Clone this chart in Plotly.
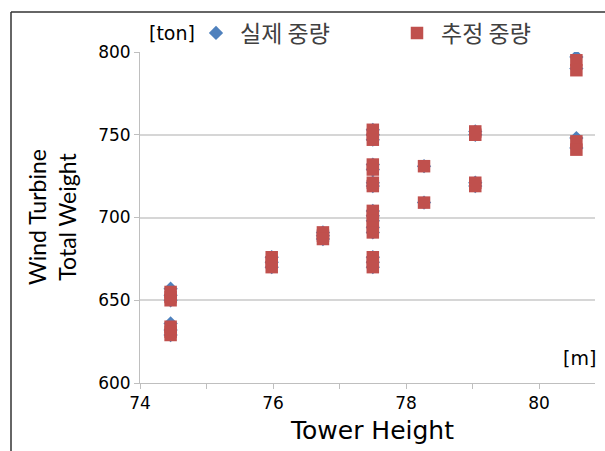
import plotly.graph_objects as go

# ---- data ----
series_names = ["실제 중량", "추정 중량"]

tower_height = (
    [74.46] * 6 + [75.98] * 3 + [76.75] * 3 + [77.50] * 15
    + [78.27] * 2 + [79.04] * 4 + [80.56] * 4
)

real_weight = [
    657, 653, 650, 636, 632, 629,
    676, 673, 670,
    691, 689, 687,
    753, 750, 747, 732, 729, 721, 719, 704, 701, 698, 694, 691, 676, 673, 670,
    731, 709,
    752, 750, 721, 719,
    797, 790, 748, 742,
]

estimated_weight = [
    655, 652, 650, 634, 631, 629,
    676, 673, 670,
    691, 689, 687,
    753, 750, 747, 732, 729, 721, 719, 704, 701, 698, 694, 691, 676, 673, 670,
    731, 709,
    752, 750, 721, 719,
    795, 789, 746, 741,
]

x_tick_vals = [74, 76, 78, 80]
x_tick_text = ["74", "76", "78", "80"]
y_tick_vals = [600, 650, 700, 750, 800]
y_tick_text = ["600", "650", "700", "750", "800"]

x_title = "Tower Height"
y_title = "Wind Turbine<br>Total Weight"
y_unit = "[ton]"
x_unit = "[m]"

BLUE = "#4F81BD"
RED = "#C0504D"

fig = go.Figure()
fig.add_trace(go.Scatter(
    x=tower_height, y=real_weight, mode="markers", name=series_names[0],
    marker=dict(symbol="diamond", size=11, color=BLUE, line=dict(width=0)),
))
fig.add_trace(go.Scatter(
    x=tower_height, y=estimated_weight, mode="markers", name=series_names[1],
    marker=dict(symbol="square", size=12.5, color=RED, line=dict(width=0)),
))

L, R, T, B = 140, 10, 52, 68
W, H = 605, 451
pw, ph = W - L - R, H - T - B

def px_x(p):
    return (p - L) / pw

def px_y(p):
    return (H - B - p) / ph

fig.update_layout(
    width=W, height=H,
    margin=dict(l=L, r=R, t=T, b=B, pad=0, autoexpand=False),
    paper_bgcolor="white", plot_bgcolor="white",
    showlegend=True,
    legend=dict(
        orientation="h", x=px_x(192), y=px_y(33), xanchor="left", yanchor="middle",
        entrywidth=148, entrywidthmode="pixels", itemwidth=38,
        font=dict(family="Noto Sans CJK KR", size=23, color="#404040"),
        bgcolor="rgba(0,0,0,0)", itemclick=False,
    ),
    xaxis=dict(
        range=[74, 80.84], tickvals=x_tick_vals, ticktext=x_tick_text,
        showgrid=False, zeroline=False, showline=True, linecolor="#bfbfbf", linewidth=1,
        ticks="outside", ticklen=5, tickcolor="#bfbfbf",
        minor=dict(dtick=1, tick0=74, ticks="outside", ticklen=5, tickcolor="#bfbfbf", showgrid=False),
        tickfont=dict(family="DejaVu Sans", size=17, color="black"),
    ),
    yaxis=dict(
        range=[600, 800], tickvals=y_tick_vals, ticktext=y_tick_text,
        showgrid=True, gridcolor="#d6d6d6", gridwidth=1.5,
        zeroline=False, showline=True, linecolor="#bfbfbf", linewidth=1,
        ticks="outside", ticklen=5, tickcolor="#bfbfbf",
        tickfont=dict(family="DejaVu Sans", size=17, color="black"),
    ),
    annotations=[
        dict(text=y_unit, xref="paper", yref="paper", x=px_x(147), y=px_y(33),
             xanchor="left", yanchor="middle", showarrow=False,
             font=dict(family="DejaVu Sans", size=19, color="black")),
        dict(text=x_unit, xref="paper", yref="paper", x=px_x(598), y=px_y(358),
             xanchor="right", yanchor="middle", showarrow=False,
             font=dict(family="DejaVu Sans", size=19, color="black")),
        dict(text=x_title, xref="paper", yref="paper", x=px_x(372), y=px_y(430),
             xanchor="center", yanchor="middle", showarrow=False,
             font=dict(family="DejaVu Sans", size=25, color="black")),
        dict(text=y_title, xref="paper", yref="paper", x=px_x(52), y=px_y(217),
             xanchor="center", yanchor="middle", showarrow=False, textangle=-90,
             font=dict(family="Lato", size=23, color="black")),
    ],
    shapes=[
        dict(type="line", xref="paper", yref="paper", x0=px_x(11), x1=px_x(620),
             y0=px_y(12), y1=px_y(12), line=dict(color="#333333", width=1.5)),
        dict(type="line", xref="paper", yref="paper", x0=px_x(11), x1=px_x(11),
             y0=px_y(12), y1=px_y(460), line=dict(color="#333333", width=1.5)),
    ],
)

fig.write_html(
    "out.html",
    config={"displayModeBar": False},
    post_script="document.body.style.margin='0px';",
)
